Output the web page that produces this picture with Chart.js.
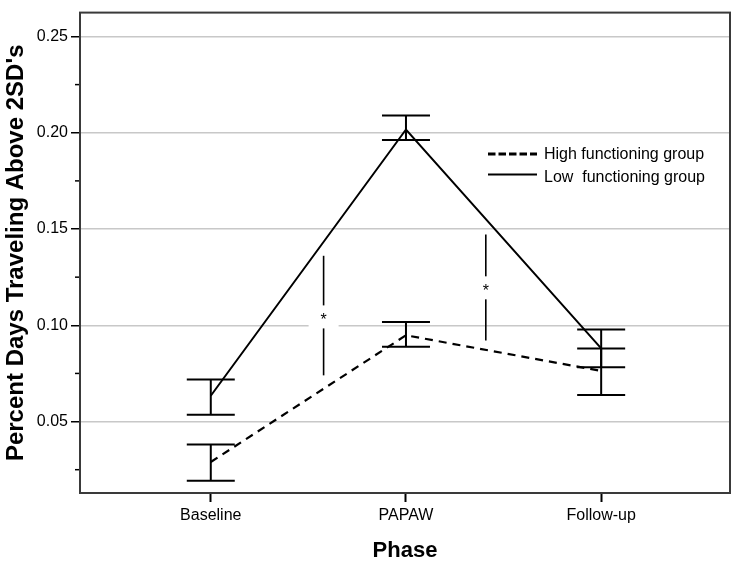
<!DOCTYPE html>
<html><head><meta charset="utf-8">
<script src="https://cdn.jsdelivr.net/npm/chart.js@4.4.1/dist/chart.umd.min.js"></script>
<style>html,body{margin:0;padding:0;background:#fff}#wrap{width:740px;height:567px;position:relative}</style>
</head><body><div id="wrap"><canvas id="c"></canvas></div>
<script>
const categories = ['Baseline', 'PAPAW', 'Follow-up'];
const seriesLabels = ['High functioning group', 'Low  functioning group'];
const highMean  = [0.0290, 0.0948, 0.0763];
const highUpper = [0.0381, 0.1017, 0.0880];
const highLower = [0.0192, 0.0888, 0.0638];
const lowMean   = [0.0634, 0.2017, 0.0880];
const lowUpper  = [0.0718, 0.2089, 0.0978];
const lowLower  = [0.0535, 0.1962, 0.0782];
const yTicks = [0.05, 0.10, 0.15, 0.20, 0.25];
const yMinorTicks = [0.025, 0.075, 0.125, 0.175, 0.225];
const sigX = [0.578, 1.409];
const sigTop = [0.1361, 0.1471];
const sigBottom = [0.0740, 0.0921];
const sigStar = [0.1041, 0.1192];
const yMin = 0.0129, yMax = 0.2624;
const xMin = -0.67, xMax = 2.66;

const FONT = "'Liberation Sans', Arial, sans-serif";

const decor = {
  id: 'decor',
  afterDatasetsDraw(chart) {
    const {ctx, scales: {x, y}, chartArea: a} = chart;
    ctx.save();
    ctx.strokeStyle = '#000';
    ctx.lineWidth = 2;
    ctx.setLineDash([]);
    const cap = 24;
    const bars = (up, lo) => up.forEach((u, i) => {
      const px = x.getPixelForValue(i);
      const p1 = y.getPixelForValue(u), p2 = y.getPixelForValue(lo[i]);
      ctx.beginPath();
      ctx.moveTo(px, p1); ctx.lineTo(px, p2);
      ctx.moveTo(px - cap, p1); ctx.lineTo(px + cap, p1);
      ctx.moveTo(px - cap, p2); ctx.lineTo(px + cap, p2);
      ctx.stroke();
    });
    bars(highUpper, highLower);
    bars(lowUpper, lowLower);
    // significance markers
    ctx.lineWidth = 1.6;
    sigX.forEach((sx, i) => {
      const px = x.getPixelForValue(sx);
      const t = y.getPixelForValue(sigTop[i]), b = y.getPixelForValue(sigBottom[i]);
      const s = y.getPixelForValue(sigStar[i]);
      ctx.beginPath(); ctx.moveTo(px, t); ctx.lineTo(px, b); ctx.stroke();
      ctx.fillStyle = '#fff';
      ctx.fillRect(px - 15, s - 12, 30, 23);
      ctx.fillStyle = '#000';
      ctx.font = '16px ' + FONT;
      ctx.textAlign = 'center';
      ctx.textBaseline = 'alphabetic';
      ctx.fillText('*', px, s + 8);
    });
    // minor ticks
    ctx.lineWidth = 1.5;
    yMinorTicks.forEach(v => {
      const py = y.getPixelForValue(v);
      ctx.beginPath(); ctx.moveTo(a.left - 5, py); ctx.lineTo(a.left, py); ctx.stroke();
    });
    // legend
    const lx = 488, lw = 49;
    const rows = [{y: 154, base: 158.5, dash: [7.5, 3], w: 3}, {y: 174.5, base: 181.5, dash: [], w: 1.8}];
    rows.forEach((r, i) => {
      ctx.lineWidth = r.w;
      ctx.setLineDash(r.dash);
      ctx.beginPath(); ctx.moveTo(lx, r.y); ctx.lineTo(lx + lw, r.y); ctx.stroke();
      ctx.setLineDash([]);
      ctx.fillStyle = '#000';
      ctx.font = '16px ' + FONT;
      ctx.textAlign = 'left';
      ctx.textBaseline = 'alphabetic';
      ctx.fillText(seriesLabels[i], 544, r.base);
    });
    // frame
    ctx.strokeStyle = '#3a3a3a';
    ctx.lineWidth = 2;
    ctx.strokeRect(a.left, a.top, a.right - a.left, a.bottom - a.top);
    ctx.restore();
  }
};

const mk = arr => arr.map((v, i) => ({x: i, y: v}));

new Chart(document.getElementById('c'), {
  type: 'line',
  data: {
    datasets: [
      {label: seriesLabels[0], data: mk(highMean), borderColor: '#000', borderWidth: 2.2, borderDash: [8, 6], pointRadius: 0, fill: false, tension: 0},
      {label: seriesLabels[1], data: mk(lowMean), borderColor: '#000', borderWidth: 2, pointRadius: 0, fill: false, tension: 0}
    ]
  },
  options: {
    responsive: true,
    maintainAspectRatio: false,
    animation: false,
    layout: {padding: {top: 9, right: 10, bottom: 0, left: 0}},
    plugins: {legend: {display: false}, tooltip: {enabled: false}},
    scales: {
      x: {
        type: 'linear', min: xMin, max: xMax,
        afterBuildTicks: s => { s.ticks = categories.map((c, i) => ({value: i})); },
        afterFit: s => { s.height = 74; },
        border: {display: false},
        grid: {drawOnChartArea: false, tickColor: '#000', tickLength: 9, tickWidth: 2},
        ticks: {callback: v => categories[v], color: '#000', font: {family: FONT, size: 16}, padding: 4, autoSkip: false, maxRotation: 0},
        title: {display: true, text: 'Phase', color: '#000', font: {family: FONT, size: 22, weight: 'bold', lineHeight: 1.2}, padding: {top: 0, bottom: 3}}
      },
      y: {
        type: 'linear', min: yMin, max: yMax,
        afterBuildTicks: s => { s.ticks = yTicks.map(v => ({value: v})); },
        afterFit: s => { s.width = 80; },
        border: {display: false},
        grid: {color: '#c8c8c8', lineWidth: 1.5, tickColor: '#000', tickLength: 9, tickWidth: 1.5},
        ticks: {callback: v => v.toFixed(2), color: '#000', font: {family: FONT, size: 16}, padding: 3},
        title: {display: true, text: "Percent Days Traveling Above 2SD's", color: '#000', font: {family: FONT, size: 24, weight: 'bold', lineHeight: 1.2}, padding: {top: 2, bottom: 0}}
      }
    }
  },
  plugins: [decor]
});
</script>
</body></html>
